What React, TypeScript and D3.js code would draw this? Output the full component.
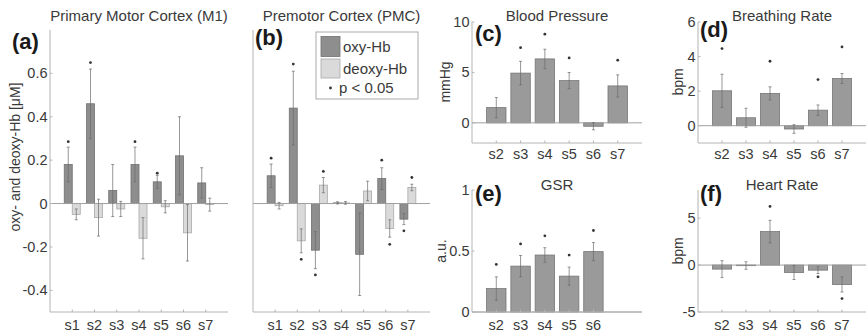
import React from "react";
import * as d3 from "d3";

// ---------- data ----------
const regions = ["s1", "s2", "s3", "s4", "s5", "s6", "s7"];

const m1Oxy = [0.18, 0.46, 0.06, 0.18, 0.1, 0.22, 0.095];
const m1OxyErr = [0.08, 0.16, 0.12, 0.08, 0.03, 0.18, 0.07];
const m1OxyStar = [0.285, 0.65, null, 0.285, 0.14, null, null];
const m1Deoxy = [-0.05, -0.065, -0.025, -0.16, -0.015, -0.135, -0.005];
const m1DeoxyErr = [0.025, 0.085, 0.035, 0.095, 0.028, 0.13, 0.03];
const m1DeoxyStar = [null, null, null, null, null, null, null];

const pmcOxy = [0.128, 0.44, -0.215, 0.003, -0.234, 0.115, -0.072];
const pmcOxyErr = [0.054, 0.17, 0.085, 0.005, 0.19, 0.05, 0.025];
const pmcOxyStar = [0.209, 0.643, -0.329, null, null, 0.2, -0.126];
const pmcDeoxy = [-0.01, -0.172, 0.085, 0.003, 0.058, -0.115, 0.074];
const pmcDeoxyErr = [0.015, 0.055, 0.035, 0.006, 0.045, 0.04, 0.015];
const pmcDeoxyStar = [null, -0.257, 0.148, null, null, -0.188, 0.12];

const physioLabels = ["s2", "s3", "s4", "s5", "s6", "s7"];
const gsrLabels = ["s2", "s3", "s4", "s5", "s6"];

const bp = [1.51, 4.93, 6.34, 4.19, -0.34, 3.66];
const bpErr = [1.0, 1.17, 0.96, 0.8, 0.35, 1.1];
const bpStar = [null, 7.45, 8.79, 6.44, null, 6.21];

const br = [2.02, 0.46, 1.87, -0.19, 0.9, 2.73];
const brErr = [0.96, 0.55, 0.38, 0.25, 0.3, 0.29];
const brStar = [4.46, null, 3.73, null, 2.67, 4.56];

const gsr = [0.192, 0.376, 0.467, 0.294, 0.495];
const gsrErr = [0.096, 0.087, 0.06, 0.074, 0.074];
const gsrStar = [0.39, 0.558, 0.624, 0.467, 0.668];

const hr = [-0.43, -0.05, 3.57, -0.79, -0.54, -2.07];
const hrErr = [0.9, 0.4, 1.2, 0.75, 0.36, 0.8];
const hrStar = [null, null, 6.25, null, -1.25, -3.57];

const hbTicks = [-0.4, -0.2, 0, 0.2, 0.4, 0.6];
const bpTicks = [0, 5, 10];
const brTicks = [0, 2, 4, 6];
const gsrTicks = [0, 0.5, 1];
const hrTicks = [-5, 0, 5];

// ---------- styles ----------
const FONT = "'Liberation Sans', Arial, Helvetica, sans-serif";
const TXT = "#3a3a3a";
const AXIS = "#b4b4b4";
const ZERO = "#a0a0a0";
const OXY_FILL = "#8e8e8e";
const OXY_STROKE = "#707070";
const DEOXY_FILL = "#dadada";
const DEOXY_STROKE = "#a9a9a9";
const PHYS_FILL = "#9a9a9a";
const PHYS_STROKE = "#777777";
const ERR = "#6a6a6a";
const TICK_FS = 14.5;

type Series = {
  values: number[];
  errors: number[];
  stars: (number | null)[];
  fill: string;
  stroke: string;
  offset: number;
  width: number;
};

type PanelProps = {
  left: number;
  right: number;
  top: number;
  bottom: number;
  xMax: number;
  yDomain: [number, number];
  labels: string[];
  series: Series[];
  yTicks: number[];
  showTickLabels: boolean;
  title: string;
  titleY: number;
  letter: string;
  letterX: number;
  letterY: number;
  ylabel?: string;
  ylabelX?: number;
  ylabelY?: number;
  xLabelY: number;
};

function Panel(p: PanelProps) {
  const x = d3.scaleLinear().domain([0, p.xMax]).range([p.left, p.right]);
  const y = d3.scaleLinear().domain(p.yDomain).range([p.bottom, p.top]);
  const y0 = y(0);
  return (
    <g>
      {p.series.map((s, si) => (
        <g key={"s" + si}>
          {s.values.map((v, i) => {
            const cx = x(i + 1 + s.offset);
            const w = x(s.width) - x(0);
            const yt = Math.min(y(v), y0);
            const h = Math.max(Math.abs(y(v) - y0), 0.6);
            return (
              <rect
                key={i}
                x={cx - w / 2}
                y={yt}
                width={w}
                height={h}
                fill={s.fill}
                stroke={s.stroke}
                strokeWidth={0.8}
              />
            );
          })}
        </g>
      ))}
      <line x1={p.left} x2={p.right} y1={y0} y2={y0} stroke={ZERO} strokeWidth={1} />
      {p.series.map((s, si) => (
        <g key={"e" + si}>
          {s.values.map((v, i) => {
            const cx = x(i + 1 + s.offset);
            const ya = y(v + s.errors[i]);
            const yb = y(v - s.errors[i]);
            return (
              <g key={i} stroke={ERR} strokeWidth={0.7}>
                <line x1={cx} x2={cx} y1={ya} y2={yb} />
                <line x1={cx - 1.5} x2={cx + 1.5} y1={ya} y2={ya} />
                <line x1={cx - 1.5} x2={cx + 1.5} y1={yb} y2={yb} />
              </g>
            );
          })}
          {s.stars.map((st, i) =>
            st === null ? null : (
              <circle key={"st" + i} cx={x(i + 1 + s.offset)} cy={y(st)} r={1.4} fill="#333" />
            )
          )}
        </g>
      ))}
      <line x1={p.left} x2={p.left} y1={p.top} y2={p.bottom} stroke={AXIS} strokeWidth={1} />
      <line x1={p.left} x2={p.right} y1={p.bottom} y2={p.bottom} stroke={AXIS} strokeWidth={1} />
      {p.labels.map((l, i) => (
        <g key={"xl" + i}>
          <line x1={x(i + 1)} x2={x(i + 1)} y1={p.bottom} y2={p.bottom - 2.5} stroke={AXIS} />
          <text
            x={x(i + 1)}
            y={p.xLabelY}
            textAnchor="middle"
            fontSize={TICK_FS}
            fontFamily={FONT}
            fill={TXT}
          >
            {l}
          </text>
        </g>
      ))}
      {p.showTickLabels &&
        p.yTicks.map((t) => (
          <g key={"yt" + t}>
            <line x1={p.left} x2={p.left + 2.5} y1={y(t)} y2={y(t)} stroke={AXIS} />
            <text
              x={p.left - 2.5}
              y={y(t)}
              dy="0.35em"
              textAnchor="end"
              fontSize={TICK_FS}
              fontFamily={FONT}
              fill={TXT}
            >
              {String(t)}
            </text>
          </g>
        ))}
      {p.ylabel && (
        <text
          transform={`translate(${p.ylabelX},${p.ylabelY}) rotate(-90)`}
          textAnchor="middle"
          dy="0.35em"
          fontSize={14}
          fontFamily={FONT}
          fill={TXT}
        >
          {p.ylabel}
        </text>
      )}
      <text
        x={(p.left + p.right) / 2}
        y={p.titleY}
        textAnchor="middle"
        fontSize={15}
        fontFamily={FONT}
        fill={TXT}
      >
        {p.title}
      </text>
      <text
        x={p.letterX}
        y={p.letterY}
        fontSize={22}
        fontWeight="bold"
        fontFamily={FONT}
        fill="#1a1a1a"
      >
        {p.letter}
      </text>
    </g>
  );
}

function Legend() {
  const lx = 316;
  const ly = 32;
  return (
    <g fontFamily={FONT} fill={TXT}>
      <rect x={lx} y={ly} width={102} height={67} fill="#fff" stroke="#aaa" strokeWidth={1} />
      <rect x={lx + 5} y={ly + 4.5} width={19} height={20} fill={OXY_FILL} stroke={OXY_STROKE} strokeWidth={0.8} />
      <text x={lx + 27} y={ly + 20} fontSize={15}>oxy-Hb</text>
      <rect x={lx + 5} y={ly + 27} width={19} height={19} fill={DEOXY_FILL} stroke={DEOXY_STROKE} strokeWidth={0.8} />
      <text x={lx + 27} y={ly + 42} fontSize={15}>deoxy-Hb</text>
      <circle cx={lx + 14.5} cy={ly + 56} r={1.4} fill="#333" />
      <text x={lx + 23} y={ly + 61} fontSize={15}>p &lt; 0.05</text>
    </g>
  );
}

export default function App() {
  const hbDomain: [number, number] = [-0.5, 0.8];
  const oxyM1: Series = { values: m1Oxy, errors: m1OxyErr, stars: m1OxyStar, fill: OXY_FILL, stroke: OXY_STROKE, offset: -0.18, width: 0.36 };
  const deoxyM1: Series = { values: m1Deoxy, errors: m1DeoxyErr, stars: m1DeoxyStar, fill: DEOXY_FILL, stroke: DEOXY_STROKE, offset: 0.18, width: 0.36 };
  const oxyPMC: Series = { values: pmcOxy, errors: pmcOxyErr, stars: pmcOxyStar, fill: OXY_FILL, stroke: OXY_STROKE, offset: -0.18, width: 0.36 };
  const deoxyPMC: Series = { values: pmcDeoxy, errors: pmcDeoxyErr, stars: pmcDeoxyStar, fill: DEOXY_FILL, stroke: DEOXY_STROKE, offset: 0.18, width: 0.36 };
  const phys = (values: number[], errors: number[], stars: (number | null)[]): Series => ({
    values, errors, stars, fill: PHYS_FILL, stroke: PHYS_STROKE, offset: 0, width: 0.8,
  });

  return (
    <svg
      width={868}
      height={335}
      style={{ position: "absolute", left: 0, top: 0, background: "#fff" }}
    >
      <rect width={868} height={335} fill="#fff" />
      <Panel
        left={50} right={228} top={30} bottom={312} xMax={8} yDomain={hbDomain}
        labels={regions} series={[oxyM1, deoxyM1]} yTicks={hbTicks} showTickLabels
        title="Primary Motor Cortex (M1)" titleY={21}
        letter="(a)" letterX={12} letterY={49}
        ylabel="oxy- and deoxy-Hb [μM]" ylabelX={15} ylabelY={157}
        xLabelY={330}
      />
      <Panel
        left={253} right={430} top={30} bottom={312} xMax={8} yDomain={hbDomain}
        labels={regions} series={[oxyPMC, deoxyPMC]} yTicks={hbTicks} showTickLabels={false}
        title="Premotor Cortex (PMC)" titleY={21}
        letter="(b)" letterX={255} letterY={45}
        xLabelY={330}
      />
      <Legend />
      <Panel
        left={472} right={642} top={22} bottom={143} xMax={7} yDomain={[-2, 10]}
        labels={physioLabels} series={[phys(bp, bpErr, bpStar)]} yTicks={bpTicks} showTickLabels
        title="Blood Pressure" titleY={21}
        letter="(c)" letterX={475} letterY={41}
        ylabel="mmHg" ylabelX={445} ylabelY={82}
        xLabelY={159}
      />
      <Panel
        left={698} right={866} top={22} bottom={143} xMax={7} yDomain={[-1, 6]}
        labels={physioLabels} series={[phys(br, brErr, brStar)]} yTicks={brTicks} showTickLabels
        title="Breathing Rate" titleY={21}
        letter="(d)" letterX={700} letterY={37}
        ylabel="bpm" ylabelX={678} ylabelY={82}
        xLabelY={159}
      />
      <Panel
        left={472} right={642} top={190} bottom={312} xMax={7} yDomain={[0, 1]}
        labels={gsrLabels} series={[phys(gsr, gsrErr, gsrStar)]} yTicks={gsrTicks} showTickLabels
        title="GSR" titleY={190}
        letter="(e)" letterX={475} letterY={201}
        ylabel="a.u." ylabelX={441} ylabelY={251}
        xLabelY={330}
      />
      <Panel
        left={698} right={866} top={190} bottom={312} xMax={7} yDomain={[-5, 8]}
        labels={physioLabels} series={[phys(hr, hrErr, hrStar)]} yTicks={hrTicks} showTickLabels
        title="Heart Rate" titleY={190}
        letter="(f)" letterX={700} letterY={201}
        ylabel="bpm" ylabelX={678} ylabelY={251}
        xLabelY={330}
      />
    </svg>
  );
}
